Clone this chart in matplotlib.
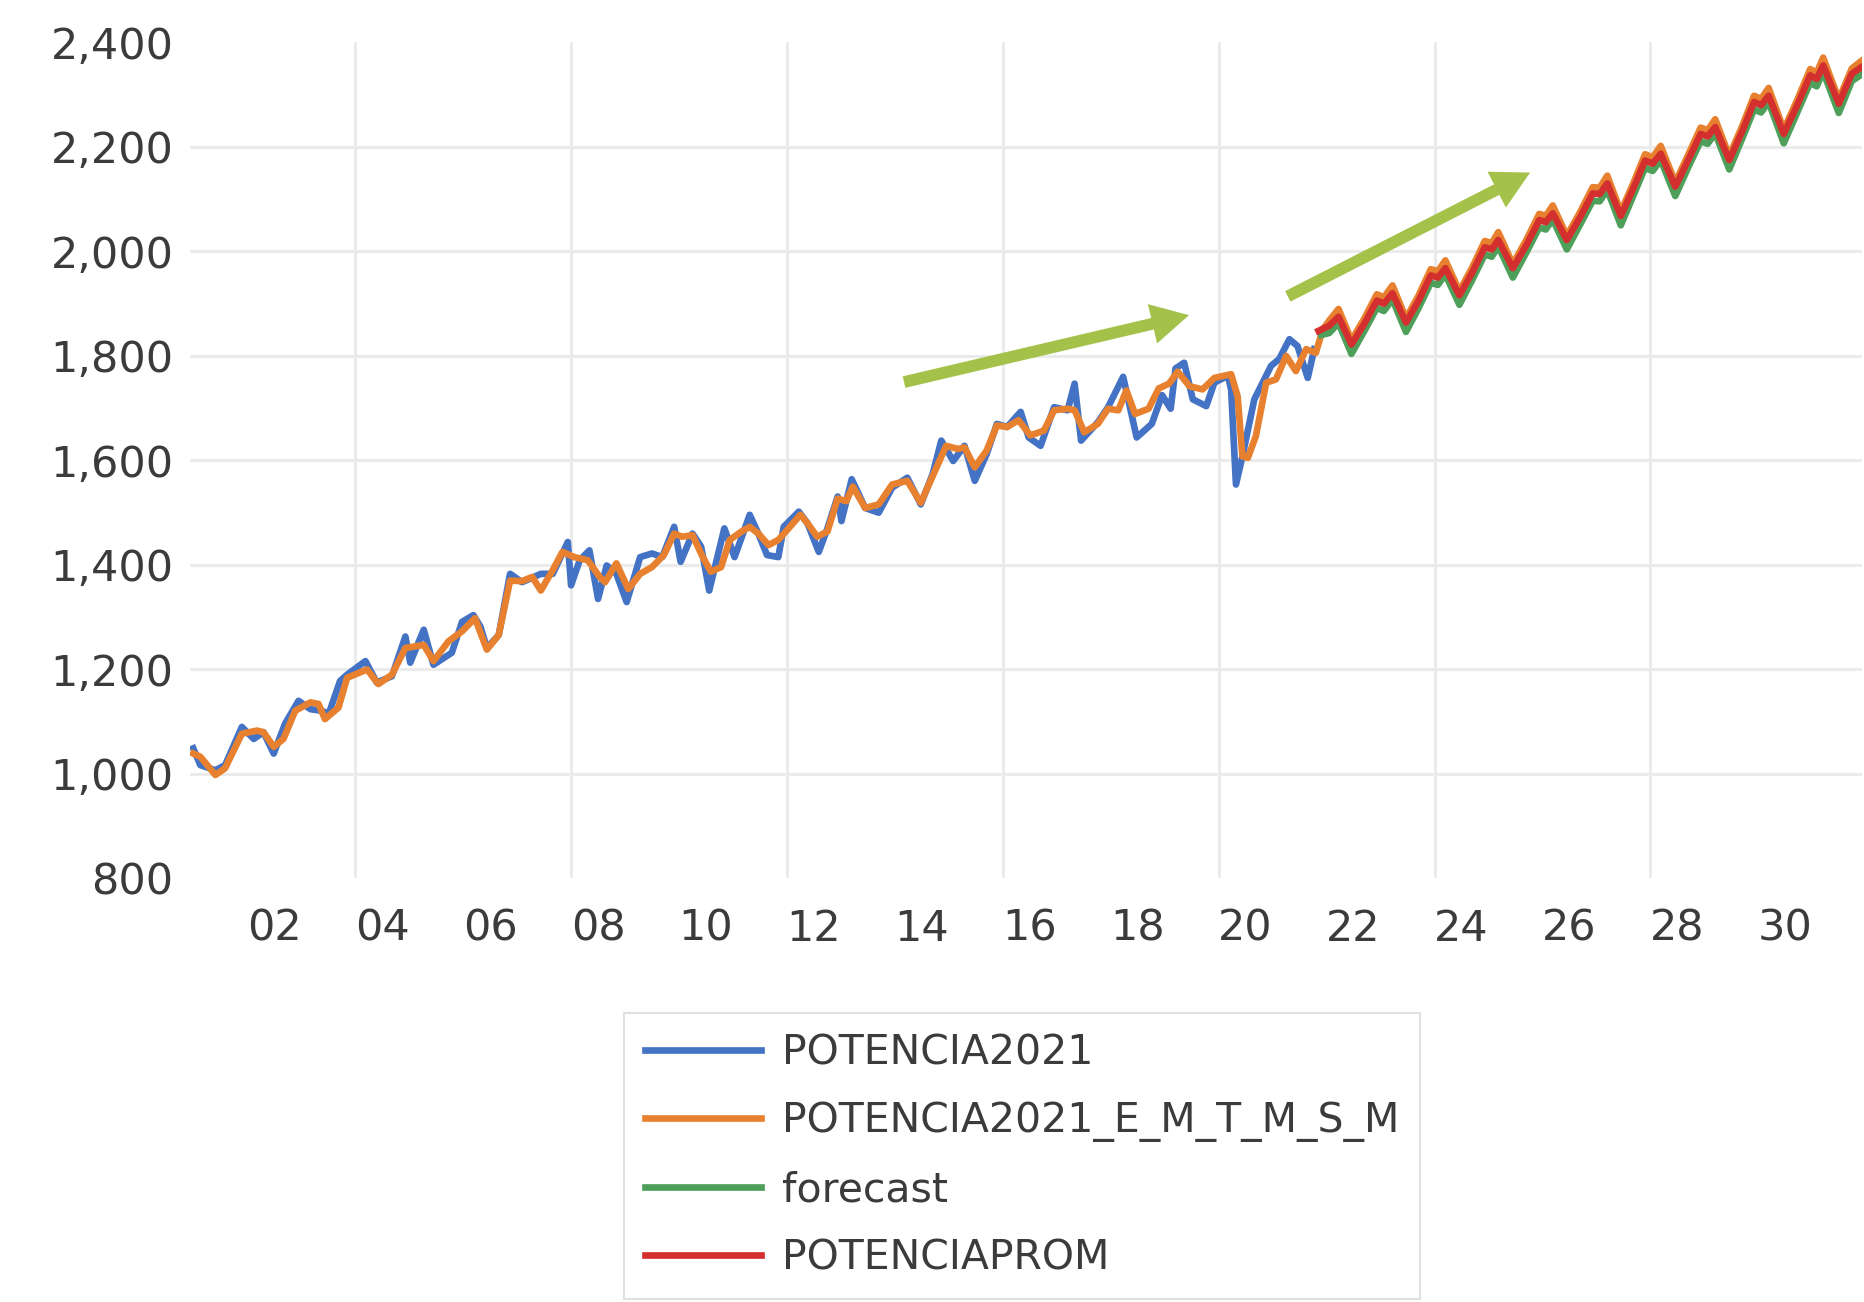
# -*- coding: utf-8 -*-
# Potencia 2021 con suavizado y pronostico hasta 2031

import matplotlib
matplotlib.use('Agg')
import matplotlib.pyplot as plt

# Serie historica POTENCIA2021 (anio decimal, valor)
t_pot = [2001.00, 2001.13, 2001.41, 2001.59, 2001.90, 2002.12, 2002.30, 2002.49,
         2002.70, 2002.95, 2003.17, 2003.38, 2003.51, 2003.72, 2003.85, 2004.19,
         2004.40, 2004.68, 2004.93, 2005.02, 2005.27, 2005.45, 2005.79, 2005.98,
         2006.19, 2006.32, 2006.44, 2006.66, 2006.87, 2007.09, 2007.44, 2007.66,
         2007.94, 2008.00, 2008.16, 2008.34, 2008.50, 2008.66, 2008.84, 2009.03,
         2009.28, 2009.50, 2009.69, 2009.91, 2010.03, 2010.25, 2010.41, 2010.56,
         2010.84, 2011.03, 2011.31, 2011.47, 2011.63, 2011.84, 2011.94, 2012.22,
         2012.38, 2012.59, 2012.75, 2012.94, 2013.01, 2013.20, 2013.45, 2013.70,
         2013.95, 2014.23, 2014.48, 2014.70, 2014.86, 2015.08, 2015.29, 2015.48,
         2015.70, 2015.89, 2016.08, 2016.33, 2016.48, 2016.70, 2016.95, 2017.20,
         2017.33, 2017.45, 2017.76, 2017.95, 2018.23, 2018.48, 2018.76, 2018.95,
         2019.11, 2019.20, 2019.36, 2019.52, 2019.77, 2019.92, 2020.17, 2020.23,
         2020.32, 2020.44, 2020.66, 2020.97, 2021.12, 2021.31, 2021.46, 2021.65,
         2021.77]
v_pot = [1049, 1017, 1007, 1017, 1090, 1067, 1080, 1039,
         1096, 1140, 1124, 1121, 1115, 1178, 1190, 1216,
         1175, 1187, 1263, 1213, 1276, 1209, 1232, 1291,
         1304, 1282, 1241, 1266, 1383, 1367, 1383, 1383,
         1444, 1361, 1409, 1428, 1335, 1399, 1383, 1329,
         1415, 1422, 1415, 1473, 1406, 1460, 1435, 1351,
         1470, 1415, 1496, 1460, 1419, 1415, 1473, 1502,
         1480, 1425, 1470, 1531, 1484, 1564, 1509, 1500,
         1548, 1567, 1516, 1574, 1638, 1599, 1628, 1561,
         1612, 1670, 1664, 1693, 1644, 1628, 1702, 1696,
         1747, 1638, 1673, 1702, 1760, 1644, 1670, 1725,
         1699, 1776, 1787, 1717, 1704, 1749, 1762, 1736,
         1554, 1608, 1717, 1781, 1794, 1832, 1819, 1758,
         1813]

# Serie suavizada POTENCIA2021_E_M_T_M_S_M
t_suav = [2001.00, 2001.13, 2001.41, 2001.59, 2001.90, 2002.18, 2002.30, 2002.49,
          2002.67, 2002.89, 2003.17, 2003.32, 2003.44, 2003.69, 2003.85, 2004.22,
          2004.43, 2004.68, 2004.93, 2005.27, 2005.45, 2005.73, 2005.98, 2006.22,
          2006.44, 2006.66, 2006.87, 2007.09, 2007.28, 2007.44, 2007.66, 2007.84,
          2008.06, 2008.31, 2008.53, 2008.63, 2008.84, 2009.06, 2009.28, 2009.50,
          2009.72, 2009.91, 2010.06, 2010.25, 2010.44, 2010.59, 2010.78, 2010.94,
          2011.16, 2011.31, 2011.47, 2011.66, 2011.84, 2012.03, 2012.25, 2012.38,
          2012.56, 2012.75, 2012.94, 2013.10, 2013.22, 2013.45, 2013.70, 2013.95,
          2014.23, 2014.48, 2014.70, 2014.95, 2015.17, 2015.29, 2015.48, 2015.70,
          2015.89, 2016.08, 2016.29, 2016.51, 2016.76, 2016.95, 2017.20, 2017.33,
          2017.51, 2017.76, 2017.95, 2018.14, 2018.29, 2018.45, 2018.70, 2018.89,
          2019.08, 2019.24, 2019.46, 2019.70, 2019.92, 2020.23, 2020.35, 2020.44,
          2020.54, 2020.69, 2020.88, 2021.06, 2021.25, 2021.43, 2021.62, 2021.80,
          2021.93, 2022.05, 2022.22, 2022.46, 2022.70, 2022.93, 2023.06, 2023.22,
          2023.47, 2023.70, 2023.93, 2024.06, 2024.20, 2024.46, 2024.70, 2024.93,
          2025.06, 2025.18, 2025.45, 2025.70, 2025.94, 2026.06, 2026.19, 2026.45,
          2026.70, 2026.93, 2027.06, 2027.20, 2027.45, 2027.68, 2027.90, 2028.04,
          2028.19, 2028.46, 2028.70, 2028.93, 2029.06, 2029.20, 2029.46, 2029.70,
          2029.92, 2030.05, 2030.19, 2030.47, 2030.72, 2030.96, 2031.08, 2031.20,
          2031.49, 2031.73, 2031.90]
v_suav = [1039, 1033, 998, 1011, 1077, 1083, 1080, 1052,
          1067, 1121, 1137, 1134, 1105, 1127, 1184, 1200,
          1172, 1190, 1241, 1247, 1216, 1254, 1273, 1298,
          1238, 1266, 1370, 1369, 1377, 1351, 1390, 1425,
          1415, 1409, 1377, 1367, 1403, 1354, 1383, 1396,
          1419, 1460, 1454, 1457, 1415, 1387, 1396, 1448,
          1464, 1473, 1460, 1438, 1448, 1470, 1496, 1480,
          1454, 1464, 1527, 1522, 1550, 1509, 1516, 1554,
          1561, 1519, 1570, 1628, 1622, 1625, 1587, 1619,
          1667, 1664, 1677, 1648, 1657, 1696, 1699, 1696,
          1654, 1670, 1699, 1696, 1734, 1689, 1699, 1738,
          1747, 1770, 1742, 1736, 1758, 1765, 1723, 1608,
          1605, 1647, 1749, 1755, 1800, 1771, 1813, 1806,
          1851, 1868, 1890, 1830, 1872, 1918, 1912, 1935,
          1872, 1915, 1966, 1962, 1983, 1924, 1970, 2020,
          2016, 2037, 1976, 2022, 2072, 2068, 2088, 2030,
          2076, 2123, 2122, 2145, 2076, 2130, 2186, 2180,
          2202, 2132, 2185, 2237, 2232, 2253, 2183, 2240,
          2298, 2292, 2313, 2233, 2290, 2349, 2342, 2371,
          2291, 2350, 2364]

# forecast
t_fc = [2021.90, 2022.05, 2022.22, 2022.46, 2022.70, 2022.93, 2023.06, 2023.22,
        2023.47, 2023.70, 2023.93, 2024.06, 2024.20, 2024.46, 2024.70, 2024.93,
        2025.06, 2025.18, 2025.45, 2025.70, 2025.94, 2026.06, 2026.19, 2026.45,
        2026.70, 2026.93, 2027.06, 2027.20, 2027.45, 2027.68, 2027.90, 2028.04,
        2028.19, 2028.46, 2028.70, 2028.93, 2029.06, 2029.20, 2029.46, 2029.70,
        2029.92, 2030.05, 2030.19, 2030.47, 2030.72, 2030.96, 2031.08, 2031.20,
        2031.49, 2031.73, 2031.90]
v_fc = [1840, 1844, 1863, 1804, 1848, 1892, 1886, 1908,
        1846, 1891, 1940, 1936, 1956, 1898, 1946, 1994,
        1990, 2010, 1950, 1998, 2046, 2042, 2061, 2004,
        2052, 2097, 2096, 2118, 2050, 2106, 2160, 2154,
        2175, 2106, 2161, 2211, 2206, 2226, 2157, 2216,
        2272, 2266, 2286, 2207, 2266, 2323, 2316, 2344,
        2265, 2326, 2338]

# POTENCIAPROM
t_prom = [2021.85, 2022.05, 2022.22, 2022.46, 2022.70, 2022.93, 2023.06, 2023.22,
          2023.47, 2023.70, 2023.93, 2024.06, 2024.20, 2024.46, 2024.70, 2024.93,
          2025.06, 2025.18, 2025.45, 2025.70, 2025.94, 2026.06, 2026.19, 2026.45,
          2026.70, 2026.93, 2027.06, 2027.20, 2027.45, 2027.68, 2027.90, 2028.04,
          2028.19, 2028.46, 2028.70, 2028.93, 2029.06, 2029.20, 2029.46, 2029.70,
          2029.92, 2030.05, 2030.19, 2030.47, 2030.72, 2030.96, 2031.08, 2031.20,
          2031.49, 2031.73, 2031.90]
v_prom = [1848, 1858, 1875, 1822, 1862, 1906, 1900, 1920,
          1864, 1905, 1954, 1950, 1968, 1916, 1960, 2008,
          2004, 2022, 1968, 2012, 2060, 2056, 2073, 2022,
          2066, 2111, 2110, 2130, 2068, 2120, 2174, 2168,
          2187, 2124, 2175, 2225, 2220, 2238, 2175, 2230,
          2286, 2280, 2298, 2225, 2280, 2337, 2330, 2356,
          2283, 2340, 2352]

# Ejes
y_ticks = [800, 1000, 1200, 1400, 1600, 1800, 2000, 2200, 2400]
x_label_years = list(range(2002, 2031, 2))
x_grid_years = [2004, 2008, 2012, 2016, 2020, 2024, 2028]

plt.rcParams['font.family'] = ['DejaVu Sans']
gris_texto = '#3B3B3B'
gris_rejilla = '#EBEBEB'

fig = plt.figure(figsize=(18.65, 13.02), dpi=100)
ax = fig.add_axes([0.1019, 0.3253, 0.8965, 0.6421])

# Rejilla (sin lineas en los bordes)
for v in y_ticks[1:-1]:
    ax.axhline(v, color=gris_rejilla, lw=2.2, zorder=0)
for yr in x_grid_years:
    ax.axvline(yr, color=gris_rejilla, lw=2.2, zorder=0)

lw = 4.8
ax.plot(t_pot, v_pot, color='#4472C4', lw=lw, label='POTENCIA2021', zorder=2)
ax.plot(t_suav, v_suav, color='#E8812F', lw=lw, label='POTENCIA2021_E_M_T_M_S_M', zorder=3)
ax.plot(t_fc, v_fc, color='#4E9F5A', lw=lw, label='forecast', zorder=4)
ax.plot(t_prom, v_prom, color='#D42F2F', lw=lw, label='POTENCIAPROM', zorder=5)

# Flechas de tendencia
verde = '#A4C24A'
flecha = dict(width=8.5, headwidth=29, headlength=27,
              facecolor=verde, edgecolor='none', shrink=0)
ax.annotate('', xy=(2019.45, 1878), xytext=(2014.17, 1750),
            arrowprops=flecha, zorder=6)
ax.annotate('', xy=(2025.77, 2151), xytext=(2021.28, 1914),
            arrowprops=flecha, zorder=6)

ax.set_xlim(2000.94, 2031.92)
ax.set_ylim(800, 2400)
ax.set_yticks(y_ticks)
ax.set_yticklabels(['{:,}'.format(v) for v in y_ticks])
ax.set_xticks([y + 0.5 for y in x_label_years])
ax.set_xticklabels(['{:02d}'.format(y % 100) for y in x_label_years])
ax.tick_params(axis='y', length=0, pad=12, labelsize=31, labelcolor=gris_texto)
ax.tick_params(axis='x', length=0, pad=21, labelsize=31, labelcolor=gris_texto)
for s in ax.spines.values():
    s.set_visible(False)

leg = ax.legend(loc='upper left', bbox_to_anchor=(0.3346, 0.222),
                bbox_transform=fig.transFigure, borderaxespad=0,
                fontsize=29.5, frameon=True, fancybox=False,
                handlelength=2.85, handletextpad=0.5, labelspacing=0.68,
                borderpad=0.5)
leg.get_frame().set_edgecolor('#D9D9D9')
leg.get_frame().set_linewidth(1.5)
for txt in leg.get_texts():
    txt.set_color(gris_texto)

fig.savefig('out.png', dpi=100)
